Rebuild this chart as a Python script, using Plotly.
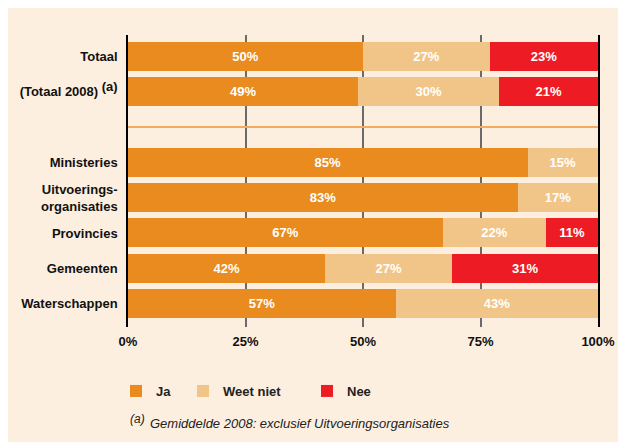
import plotly.graph_objects as go

# ---- data ----
categories = ["Totaal", "(Totaal 2008) <sup><span style='font-size:13px'>(a)</span></sup>", " ",
              "Ministeries", "Uitvoerings-<br>organisaties", "Provincies", "Gemeenten", "Waterschappen"]
rows = ["Totaal", "(Totaal 2008) <sup><span style='font-size:13px'>(a)</span></sup>", "Ministeries",
        "Uitvoerings-<br>organisaties", "Provincies", "Gemeenten", "Waterschappen"]
ja = [50, 49, 85, 83, 67, 42, 57]
weet_niet = [27, 30, 15, 17, 22, 27, 43]
nee = [23, 21, 0, 0, 11, 31, 0]
series_names = ["Ja", "Weet niet", "Nee"]
tick_vals = [0, 25, 50, 75, 100]
tick_text = ["0%", "25%", "50%", "75%", "100%"]
footnote_mark = "<i>(a)</i>"
footnote = "<i>Gemiddelde 2008: exclusief Uitvoeringsorganisaties</i>"

colors = ["#E98B1E", "#F1C588", "#ED1C24"]
BG = "#FDEFE0"
FONT = "Liberation Sans, Arial, sans-serif"

fig = go.Figure()
legend_ids = ["legend", "legend2", "legend3"]
for name, vals, col, lg in zip(series_names, [ja, weet_niet, nee], colors, legend_ids):
    fig.add_trace(go.Bar(
        y=rows, x=vals, name=name, orientation="h",
        marker=dict(color=col, line=dict(width=0)),
        text=[f"{v}%" if v else "" for v in vals],
        textposition="inside", insidetextanchor="middle", textangle=0,
        textfont=dict(color="white", size=13, family=FONT, weight="bold"),
        constraintext="none", legend=lg, hoverinfo="skip",
    ))

# page offset of the figure (body margin) is 8px
OFF = 8
W, H = 618, 434
L, R, T, B = 120, 28, 27, 115
pw, ph = W - L - R, H - T - B

def px_x(p):  # page pixel -> paper fraction
    return (p - OFF - L) / pw

def px_y(p):
    return (H - B - (p - OFF)) / ph

legend_common = dict(orientation="h", yanchor="middle", xanchor="left",
                     bgcolor="rgba(0,0,0,0)", borderwidth=0,
                     font=dict(size=13, family=FONT, color="#222", weight="bold"),
                     itemclick=False, itemdoubleclick=False)

fig.update_layout(
    width=W, height=H,
    margin=dict(l=L, r=R, t=T, b=B, pad=0, autoexpand=False),
    paper_bgcolor=BG, plot_bgcolor=BG,
    barmode="stack", bargap=0.18,
    showlegend=True,
    legend=dict(x=px_x(116), y=px_y(391), **legend_common),
    legend2=dict(x=px_x(183), y=px_y(391), **legend_common),
    legend3=dict(x=px_x(307), y=px_y(391), **legend_common),
    font=dict(family=FONT, color="#222"),
    xaxis=dict(range=[0, 100], tickvals=tick_vals, ticktext=tick_text,
               showgrid=True, gridcolor="#6a6a6a", gridwidth=1.5,
               zeroline=False, showline=False, ticks="",
               ticklabelstandoff=5, automargin=False,
               tickfont=dict(size=13, family=FONT, color="#111", weight="bold"),
               fixedrange=True),
    yaxis=dict(type="category", categoryorder="array", categoryarray=categories,
               range=[7.66, -0.6], showgrid=False, zeroline=False,
               showline=True, linecolor="#000", linewidth=1.5, mirror=True,
               ticks="", ticklabelstandoff=6, automargin=False,
               tickfont=dict(size=13, family=FONT, color="#111", weight="bold"),
               fixedrange=True),
    shapes=[
        dict(type="line", xref="x", yref="y", x0=0, x1=100, y0=2, y1=2,
             line=dict(color="#F4A862", width=2), layer="above"),
    ],
    annotations=[
        dict(text=footnote_mark, xref="paper", yref="paper",
             x=px_x(128), y=px_y(419), xanchor="left", yanchor="middle",
             showarrow=False, font=dict(size=12, family=FONT, color="#222")),
        dict(text=footnote, xref="paper", yref="paper",
             x=px_x(148), y=px_y(424), xanchor="left", yanchor="middle",
             showarrow=False, font=dict(size=13, family=FONT, color="#222")),
    ],
)

fig.write_html("out.html")
